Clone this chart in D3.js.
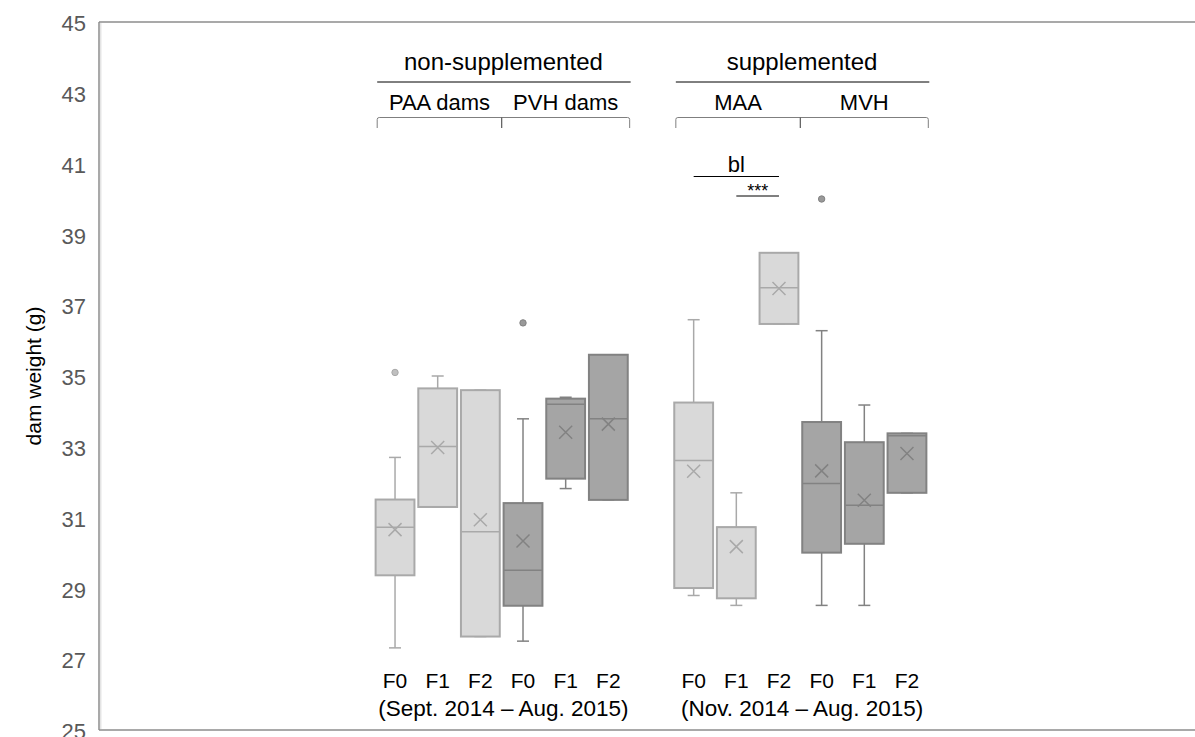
<!DOCTYPE html>
<html>
<head>
<meta charset="utf-8">
<script src="https://cdn.jsdelivr.net/npm/d3@7"></script>
<style>
  body { margin: 0; background: #fff; }
  svg { font-family: Arial, "Liberation Sans", sans-serif; }
</style>
</head>
<body>
<svg id="chart" width="1195" height="737"></svg>
<script>
// ---- data ----
const boxes = ["PAA F0", "PAA F1", "PAA F2", "PVH F0", "PVH F1", "PVH F2",
               "MAA F0", "MAA F1", "MAA F2", "MVH F0", "MVH F1", "MVH F2"];
const genLabels = ["F0", "F1", "F2", "F0", "F1", "F2", "F0", "F1", "F2", "F0", "F1", "F2"];
const shade = ["light", "light", "light", "dark", "dark", "dark",
               "light", "light", "light", "dark", "dark", "dark"];
const whiskerLow  = [27.32, 31.30, 27.64, 27.51, 31.82, 31.50, 28.80, 28.52, 36.47, 28.52, 28.52, 31.70];
const q1          = [29.37, 31.30, 27.64, 28.51, 32.10, 31.50, 29.01, 28.72, 36.47, 30.01, 30.26, 31.70];
const median      = [30.73, 33.01, 30.60, 29.51, 34.20, 33.79, 32.61, 30.73, 37.49, 31.96, 31.35, 33.31];
const q3          = [31.51, 34.65, 34.60, 31.41, 34.36, 35.60, 34.25, 30.73, 38.48, 33.70, 33.13, 33.38];
const whiskerHigh = [32.70, 35.00, 34.60, 33.79, 34.40, 35.60, 36.59, 31.70, 38.48, 36.28, 34.18, 33.38];
const means       = [30.66, 32.98, 30.94, 30.34, 33.41, 33.64, 32.31, 30.18, 37.47, 32.32, 31.49, 32.81];
const outliers    = [[35.1], [], [], [36.5], [], [], [], [], [], [40.0], [], []];

const yTicks = [25, 27, 29, 31, 33, 35, 37, 39, 41, 43, 45];
const slots = [...boxes.slice(0, 6), "gap", ...boxes.slice(6)];

const groups = [
  { name: "non-supplemented", subs: ["PAA dams", "PVH dams"], first: "PAA F0", last: "PVH F2",
    period: "(Sept. 2014 \u2013 Aug. 2015)" },
  { name: "supplemented", subs: ["MAA", "MVH"], first: "MAA F0", last: "MVH F2",
    period: "(Nov. 2014 \u2013 Aug. 2015)" }
];
const sigBars = [
  { label: "bl",  from: "MAA F0", to: "MAA F2" },
  { label: "***", from: "MAA F1", to: "MAA F2" }
];

const colors = {
  light: { fill: "#d9d9d9", stroke: "#a9a9a9", out: "#bfbfbf" },
  dark:  { fill: "#a5a5a5", stroke: "#828282", out: "#999999" }
};

// ---- layout ----
const svg = d3.select("#chart");
const plot = { left: 99, top: 22, bottom: 730 };

const y = d3.scaleLinear().domain([25, 45]).range([plot.bottom, plot.top]);
const x = d3.scaleBand().domain(slots).range([373.7, 928.3]).paddingInner(0).paddingOuter(0);
const bw = x.bandwidth();
const boxW = bw * 0.91;
const cx = d => x(d) + bw / 2;

// frame
svg.append("line").attr("x1", plot.left).attr("x2", 1195).attr("y1", plot.top).attr("y2", plot.top)
  .attr("stroke", "#8c8c8c").attr("stroke-width", 1.5);
svg.append("line").attr("x1", plot.left).attr("x2", 1195).attr("y1", plot.bottom).attr("y2", plot.bottom)
  .attr("stroke", "#8c8c8c").attr("stroke-width", 1.5);
svg.append("line").attr("x1", plot.left).attr("x2", plot.left).attr("y1", plot.top).attr("y2", plot.bottom)
  .attr("stroke", "#8c8c8c").attr("stroke-width", 1.5);
svg.append("line").attr("x1", plot.left + 1.8).attr("x2", plot.left + 1.8).attr("y1", plot.top + 1).attr("y2", plot.bottom - 1)
  .attr("stroke", "#dedede").attr("stroke-width", 1.2);

// y tick labels
svg.append("g").selectAll("text").data(yTicks).join("text")
  .attr("x", 86).attr("y", d => y(d) + 1.5).attr("dy", "0.35em")
  .attr("text-anchor", "end").attr("fill", "#595959").style("font-size", "22px")
  .text(d => d);

svg.append("text")
  .attr("transform", `translate(34,${(plot.top + plot.bottom) / 2}) rotate(-90)`)
  .attr("text-anchor", "middle").attr("dy", "0.35em")
  .attr("fill", "#000").style("font-size", "21px")
  .text("dam weight (g)");

// ---- box plots ----
const g = svg.append("g").selectAll("g").data(boxes).join("g");

g.each(function (name, i) {
  const sel = d3.select(this);
  const c = colors[shade[i]];
  const xc = cx(name);
  // whiskers
  sel.append("line").attr("x1", xc).attr("x2", xc).attr("y1", y(whiskerHigh[i])).attr("y2", y(q3[i]))
    .attr("stroke", c.stroke).attr("stroke-width", 1.5);
  sel.append("line").attr("x1", xc).attr("x2", xc).attr("y1", y(q1[i])).attr("y2", y(whiskerLow[i]))
    .attr("stroke", c.stroke).attr("stroke-width", 1.5);
  [whiskerHigh[i], whiskerLow[i]].forEach(v => {
    sel.append("line").attr("x1", xc - 6).attr("x2", xc + 6).attr("y1", y(v)).attr("y2", y(v))
      .attr("stroke", c.stroke).attr("stroke-width", 1.5);
  });
  // box
  sel.append("rect")
    .attr("x", xc - boxW / 2).attr("width", boxW)
    .attr("y", y(q3[i])).attr("height", y(q1[i]) - y(q3[i]))
    .attr("fill", c.fill).attr("stroke", c.stroke).attr("stroke-width", 2);
  // median
  sel.append("line").attr("x1", xc - boxW / 2).attr("x2", xc + boxW / 2)
    .attr("y1", y(median[i])).attr("y2", y(median[i]))
    .attr("stroke", c.stroke).attr("stroke-width", 1.5);
  // mean marker
  const m = y(means[i]), s = 6.5;
  sel.append("path")
    .attr("d", `M${xc - s},${m - s}L${xc + s},${m + s}M${xc - s},${m + s}L${xc + s},${m - s}`)
    .attr("stroke", c.stroke).attr("stroke-width", 1.5).attr("fill", "none");
  // outliers
  sel.selectAll("circle").data(outliers[i]).join("circle")
    .attr("cx", xc).attr("cy", v => y(v)).attr("r", 3.2)
    .attr("fill", c.out).attr("stroke", c.stroke).attr("stroke-width", 1);
});

// x labels
svg.append("g").selectAll("text").data(boxes).join("text")
  .attr("x", d => cx(d)).attr("y", 688)
  .attr("text-anchor", "middle").attr("fill", "#000").style("font-size", "21px")
  .text((d, i) => genLabels[i]);

// ---- group annotations ----
groups.forEach(gr => {
  const x0 = x(gr.first) + 3.5;
  const x1 = x(gr.last) + bw;
  const xm = x(gr.first) + 3 * bw;
  const mid = (x0 + x1) / 2;

  svg.append("text").attr("x", mid).attr("y", 70).attr("text-anchor", "middle")
    .style("font-size", "24px").attr("fill", "#000").text(gr.name);
  svg.append("line").attr("x1", x0).attr("x2", x1 + 1).attr("y1", 82).attr("y2", 82)
    .attr("stroke", "#000").attr("stroke-width", 1);

  svg.append("text").attr("x", (x0 + xm) / 2).attr("y", 110).attr("text-anchor", "middle")
    .style("font-size", "22px").attr("fill", "#000").text(gr.subs[0]);
  svg.append("text").attr("x", (xm + x1) / 2).attr("y", 110).attr("text-anchor", "middle")
    .style("font-size", "22px").attr("fill", "#000").text(gr.subs[1]);

  // bracket
  const r = 2;
  svg.append("path")
    .attr("d", `M${x0},128V${117.5 + r}Q${x0},117.5 ${x0 + r},117.5H${x1 - r}Q${x1},117.5 ${x1},${117.5 + r}V128`)
    .attr("fill", "none").attr("stroke", "#7f7f7f").attr("stroke-width", 1);
  svg.append("line").attr("x1", xm).attr("x2", xm).attr("y1", 117.5).attr("y2", 128)
    .attr("stroke", "#595959").attr("stroke-width", 1.2);

  svg.append("text").attr("x", mid).attr("y", 716).attr("text-anchor", "middle")
    .style("font-size", "22.5px").attr("fill", "#000").text(gr.period);
});

// significance bars
sigBars.forEach((b, k) => {
  const yy = k === 0 ? 176.5 : 196;
  svg.append("line").attr("x1", cx(b.from)).attr("x2", cx(b.to)).attr("y1", yy).attr("y2", yy)
    .attr("stroke", "#000").attr("stroke-width", 1);
  svg.append("text").attr("x", (cx(b.from) + cx(b.to)) / 2).attr("y", k === 0 ? 172 : 197)
    .attr("text-anchor", "middle").attr("fill", "#000")
    .style("font-size", k === 0 ? "22px" : "18px").text(b.label);
});
</script>
</body>
</html>
